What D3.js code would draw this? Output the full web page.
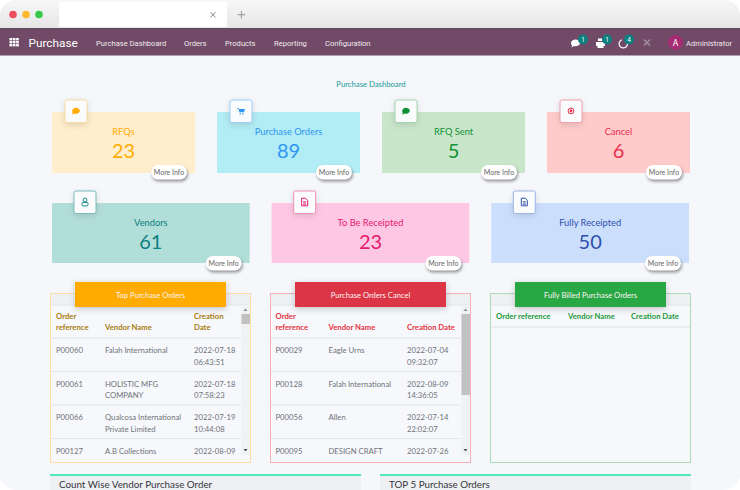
<!DOCTYPE html>
<html>
<head>
<meta charset="utf-8">
<script src="https://cdn.jsdelivr.net/npm/d3@7"></script>
<style>
  html, body { margin: 0; padding: 0; background: #fff; overflow: hidden; }
  svg { display: block; }
  text { font-family: Lato, sans-serif; }
  .nav text { font-family: Roboto, sans-serif; }
</style>
</head>
<body>
<svg id="chart" width="740" height="490"></svg>
<script>
// top cards
const topLabels = ['RFQs', 'Purchase Orders', 'RFQ Sent', 'Cancel'];
const topValues = [23, 89, 5, 6];
const topIcons = ['chat', 'cart', 'chat', 'target'];
const topFill = ['#ffeecc', '#b2ecf4', '#c9e6cb', '#ffcaca'];
const topInk = ['#ffab00', '#2f96f3', '#0f9135', '#e8304a'];
const topEdge = ['#fbdca0', '#9ccdf8', '#a6d6ae', '#f2a0ac'];

const lowLabels = ['Vendors', 'To Be Receipted', 'Fully Receipted'];
const lowValues = [61, 23, 50];
const lowIcons = ['user', 'doc', 'doc'];
const lowFill = ['#b2ded9', '#fec8e4', '#cbdffd'];
const lowInk = ['#0b8080', '#e5196e', '#2f50ab'];
const lowEdge = ['#7cbcbc', '#ef90b4', '#9db4e4'];

// tables
const tableTitles = ['Top Purchase Orders', 'Purchase Orders Cancel', 'Fully Billed Purchase Orders'];
const tableFill = ['#ffab00', '#dc3545', '#28a745'];
const tableEdge = ['#fbdfa4', '#f4b1b8', '#add9b7'];
const tableInk = ['#a87c10', '#e5343f', '#1d9b3c'];
const topOrders = [
  ['P00060', ['Falah International'], ['2022-07-18', '06:43:51']],
  ['P00061', ['HOLISTIC MFG', 'COMPANY'], ['2022-07-18', '07:58:23']],
  ['P00066', ['Qualcosa International', 'Private Limited'], ['2022-07-19', '10:44:08']],
  ['P00127', ['A.B Collections'], ['2022-08-09']]
];
const cancelOrders = [
  ['P00029', ['Eagle Urns'], ['2022-07-04', '09:32:07']],
  ['P00128', ['Falah International'], ['2022-08-09', '14:36:05']],
  ['P00056', ['Allen'], ['2022-07-14', '22:02:07']],
  ['P00095', ['DESIGN CRAFT'], ['2022-07-26']]
];
const billedOrders = [];
const tableRows = [topOrders, cancelOrders, billedOrders];

const navItems = ['Purchase Dashboard', 'Orders', 'Products', 'Reporting', 'Configuration'];
const navX = [96, 184, 225, 274, 325];
const badges = [1, 1, 4];
const lowerTitles = ['Count Wise Vendor Purchase Order', 'TOP 5 Purchase Orders'];

const svg = d3.select('#chart');

const defs = svg.append('defs');
const grad = defs.append('linearGradient').attr('id', 'chrome').attr('x2', 0).attr('y2', 1);
grad.append('stop').attr('offset', 0).attr('stop-color', '#f7f7f7');
grad.append('stop').attr('offset', 1).attr('stop-color', '#e6e6e6');
defs.append('clipPath').attr('id', 'win').append('rect')
  .attr('width', 740).attr('height', 490).attr('rx', 16);
defs.append('clipPath').attr('id', 'rowclip').append('rect')
  .attr('x', -40).attr('y', 0).attr('width', 240).attr('height', 117);

const page = svg.append('g').attr('clip-path', 'url(#win)');
page.append('rect').attr('width', 740).attr('height', 490).attr('fill', '#f5f7fb');

// browser chrome
page.append('rect').attr('width', 740).attr('height', 28).attr('fill', 'url(#chrome)');
const dots = d3.scalePoint().domain(['#ee4e5e', '#fdb92e', '#37c94a']).range([13, 39]);
page.selectAll('.dot').data(dots.domain()).join('circle')
  .attr('cx', d => dots(d)).attr('cy', 14.5).attr('r', 3.8).attr('fill', d => d);
page.append('rect').attr('x', 59).attr('y', 2).attr('width', 168).attr('height', 25).attr('fill', '#fff');
page.append('path').attr('d', 'M210.5 12l5 5.5M215.5 12l-5 5.5').attr('stroke', '#8a8a8a').attr('fill', 'none');
page.append('path').attr('d', 'M241.5 11v7.5M237.7 14.7h7.6').attr('stroke', '#a2a2a2').attr('stroke-width', 1.2).attr('fill', 'none');

// navbar
const nav = page.append('g').attr('class', 'nav');
nav.append('rect').attr('y', 28).attr('width', 740).attr('height', 27.5).attr('fill', '#704a66');
nav.append('rect').attr('y', 28).attr('width', 740).attr('height', 1).attr('fill', '#5a5057');
const grid = d3.range(9);
nav.selectAll('.sq').data(grid).join('rect')
  .attr('x', d => 9.5 + (d % 3) * 3.3).attr('y', d => 38 + Math.floor(d / 3) * 3)
  .attr('width', 2.7).attr('height', 2.4).attr('fill', '#fff');
nav.append('text').attr('x', 28.5).attr('y', 46.5).attr('font-size', 11.8)
  .attr('fill', '#fff').text('Purchase');
nav.selectAll('.item').data(navItems).join('text')
  .attr('x', (d, i) => navX[i]).attr('y', 45.5).attr('font-size', 7.6).attr('fill', '#f0e9ee').text(d => d);

// systray
const trayX = [576, 600, 622];
nav.append('path').attr('d', 'M571 43a4.6 3.4 0 1 1 3 3l-2.5 1.5.5-2a3.4 3 0 0 1-1-2.5z').attr('fill', '#fff');
nav.append('path').attr('d', 'M596 42h9v4h-1.5v2h-6v-2H596zM598 38.5h5v2.5h-5z').attr('fill', '#fff');
nav.append('path').attr('d', 'M626.5 41a4.2 4.2 0 1 1-4.5-1.3').attr('fill', 'none').attr('stroke', '#fff').attr('stroke-width', 1.2);
nav.selectAll('.badge').data(badges).join('circle')
  .attr('cx', (d, i) => trayX[i] + 7).attr('cy', 39.5).attr('r', 5).attr('fill', '#0b7f7f');
nav.selectAll('.badgetext').data(badges).join('text')
  .attr('x', (d, i) => trayX[i] + 7).attr('y', 42).attr('text-anchor', 'middle')
  .attr('font-size', 6.5).attr('fill', '#fff').text(d => d);
nav.append('path').attr('d', 'M644 39.5l6 6M650 39.5l-6 6').attr('stroke', '#a08c9b').attr('stroke-width', 1.6).attr('fill', 'none');
nav.append('circle').attr('cx', 675.5).attr('cy', 42.5).attr('r', 7.5).attr('fill', '#a52c72');
nav.append('text').attr('x', 675.5).attr('y', 45.5).attr('text-anchor', 'middle').attr('font-size', 8.5).attr('fill', '#fff').text('A');
nav.append('text').attr('x', 686).attr('y', 45.5).attr('font-size', 7.6).attr('fill', '#f0e9ee').text('Administrator');

page.append('text').attr('x', 371).attr('y', 87).attr('text-anchor', 'middle')
  .attr('font-size', 7.7).attr('fill', '#1a9a96').text('Purchase Dashboard');

function icon(g, kind, c) {
  if (kind === 'chat') {
    g.append('path').attr('d', 'M-3.8 0a3.8 2.9 0 1 1 2.2 2.4l-2.2 1.3.5-2a3 3 0 0 1-.5-1.7z').attr('fill', c);
  } else if (kind === 'cart') {
    g.append('path').attr('d', 'M-4 -3h1.6l.5 1H4l-1 3.2h-4.6l-1-3.4H-4zM-1.4 2.2h1.3v1.4h-1.3zM1.2 2.2h1.3v1.4H1.2z').attr('fill', c);
  } else if (kind === 'target') {
    g.append('circle').attr('r', 2.9).attr('fill', 'none').attr('stroke', c).attr('stroke-width', 1);
    g.append('circle').attr('r', 1.4).attr('fill', c);
  } else if (kind === 'user') {
    g.append('circle').attr('cy', -2).attr('r', 1.9).attr('fill', 'none').attr('stroke', c).attr('stroke-width', .9);
    g.append('rect').attr('x', -3).attr('y', .5).attr('width', 6).attr('height', 3.4).attr('rx', 1)
      .attr('fill', 'none').attr('stroke', c).attr('stroke-width', .9);
  } else {
    g.append('path').attr('d', 'M-3 -3.8h3.8L3 -1.6v5.4h-6z').attr('fill', 'none').attr('stroke', c).attr('stroke-width', 1);
    g.append('path').attr('d', 'M-1.5 -.3h3M-1.5 1h3M-1.5 2.3h3').attr('stroke', c).attr('stroke-width', .8);
  }
}

function drawCards(labels, values, icons, fill, ink, edge, x, y0, h, iconX, moreY) {
  const cards = page.selectAll(null).data(labels).join('g')
    .attr('transform', d => `translate(${x(d)},${y0})`);
  const w = x.bandwidth();
  cards.append('rect').attr('width', w).attr('height', h).attr('fill', (d, i) => fill[i]);
  cards.append('text').attr('x', w / 2).attr('y', 22.5).attr('text-anchor', 'middle')
    .attr('font-size', 9.3).attr('fill', (d, i) => ink[i]).text(d => d);
  cards.append('text').attr('x', w / 2).attr('y', 46).attr('text-anchor', 'middle')
    .attr('font-size', 20).attr('fill', (d, i) => ink[i]).text((d, i) => values[i]);
  const box = cards.append('g').attr('transform', `translate(${iconX},-12)`);
  box.append('rect').attr('width', 22).attr('height', 22.5).attr('rx', 2)
    .attr('fill', '#f9fbfd').attr('stroke', (d, i) => edge[i]).attr('stroke-width', 1)
    .style('filter', 'drop-shadow(0 2px 3px rgba(90,90,90,.2))');
  box.each(function(d, i) {
    icon(d3.select(this).append('g').attr('transform', 'translate(11,11)'), icons[i], ink[i]);
  });
  const more = cards.append('g').attr('transform', `translate(${w - 44},${moreY})`);
  more.append('rect').attr('width', 36).attr('height', 14.5).attr('rx', 7.2).attr('fill', '#fff')
    .style('filter', 'drop-shadow(1.5px 2px 1.5px rgba(70,70,70,.55))');
  more.append('text').attr('x', 18).attr('y', 10).attr('text-anchor', 'middle')
    .attr('font-size', 7).attr('fill', '#666').text('More Info');
}

const xTop = d3.scaleBand().domain(topLabels).range([52, 690]).paddingInner(22 / 165);
const xLow = d3.scaleBand().domain(lowLabels).range([52, 689]).paddingInner(.1);
drawCards(topLabels, topValues, topIcons, topFill, topInk, topEdge, xTop, 112, 61, 13, 53);
drawCards(lowLabels, lowValues, lowIcons, lowFill, lowInk, lowEdge, xLow, 203, 60, 22, 53);

// tables
const xTable = d3.scaleBand().domain(tableTitles).range([50, 691]).paddingInner(19 / 220);
const yRow = d3.scaleBand().domain(d3.range(4)).range([0, 134]);
const colX = [[6, 55, 144], [5.5, 58.5, 137], [6, 78, 141]];
const headLines = [
  [['Order', 'reference'], ['Vendor Name'], ['Creation', 'Date']],
  [['Order', 'reference'], ['Vendor Name'], ['Creation Date']],
  [['Order reference'], ['Vendor Name'], ['Creation Date']]
];

tableTitles.forEach((title, t) => {
  const g = page.append('g').attr('transform', `translate(${xTable(title)},293)`);
  const w = xTable.bandwidth();
  const twoLine = t < 2;
  const headBottom = twoLine ? 45 : 34;
  g.append('rect').attr('x', .5).attr('y', .5).attr('width', w - 1).attr('height', 169)
    .attr('fill', '#f6f8fc').attr('stroke', tableEdge[t]);
  g.append('rect').attr('x', 1).attr('y', 1).attr('width', w - 2).attr('height', 11).attr('fill', '#eef0f4');
  g.append('line').attr('x1', 1).attr('x2', w - 1).attr('y1', 12).attr('y2', 12).attr('stroke', '#e2e4e9');
  g.append('line').attr('x1', 1).attr('x2', twoLine ? w - 10 : w - 1).attr('y1', headBottom).attr('y2', headBottom)
    .attr('stroke', '#dfe2e8').attr('stroke-width', 1);

  headLines[t].forEach((lines, c) => {
    g.selectAll(null).data(lines).join('text')
      .attr('x', colX[t][c])
      .attr('y', (d, i) => twoLine ? 37 - (lines.length - 1 - i) * 11.3 : 26)
      .attr('font-size', 7.7).attr('font-weight', 700).attr('fill', tableInk[t]).text(d => d);
  });

  const body = g.append('g').attr('transform', `translate(0,${headBottom})`);
  const clip = body.append('g').attr('clip-path', 'url(#rowclip)');
  const rows = clip.selectAll('g').data(tableRows[t]).join('g')
    .attr('transform', (d, i) => `translate(0,${yRow(i)})`);
  rows.filter((d, i) => i > 0).append('line')
    .attr('x1', 1).attr('x2', w - 10).attr('stroke', '#e3e5ea');
  rows.each(function(row) {
    const r = d3.select(this);
    [[row[0]], row[1], row[2]].forEach((lines, c) => {
      r.selectAll(null).data(lines).join('text')
        .attr('x', colX[t][c]).attr('y', (d, i) => 15 + i * 11.6)
        .attr('font-size', 7.7).attr('fill', '#6f7378').text(d => d);
    });
  });

  if (twoLine) {
    g.append('rect').attr('x', w - 10).attr('y', 12).attr('width', 9).attr('height', 150).attr('fill', '#f1f2f4');
    g.append('rect').attr('x', w - 9.5).attr('y', 21).attr('width', 8.5).attr('height', t === 0 ? 10 : 81).attr('fill', '#c1c1c1');
    g.append('path').attr('d', `M${w - 7.5} 18l2-2.6 2 2.6z`).attr('fill', '#8c8c8c');
    g.append('path').attr('d', `M${w - 7.5} 156l2 2.6 2-2.6z`).attr('fill', '#505050');
  }

  const head = g.append('g').attr('transform', 'translate(25,-11)');
  head.append('rect').attr('width', 151).attr('height', 25).attr('fill', tableFill[t])
    .style('filter', 'drop-shadow(0 2px 3px rgba(80,80,80,.3))');
  head.append('text').attr('x', 75.5).attr('y', 15.5).attr('text-anchor', 'middle')
    .attr('font-size', 7.6).attr('fill', '#fdf3f3').text(title);
});

// lower panels, cut off by the window
const xLower = d3.scaleBand().domain(lowerTitles).range([50, 691]).paddingInner(19 / 330);
const lower = page.selectAll(null).data(lowerTitles).join('g')
  .attr('transform', d => `translate(${xLower(d)},474)`);
lower.append('rect').attr('width', xLower.bandwidth()).attr('height', 20).attr('fill', '#eff0f4');
lower.append('rect').attr('width', xLower.bandwidth()).attr('height', 2).attr('fill', '#4fe8b6');
lower.append('text').attr('x', 9).attr('y', 13.5).attr('font-size', 9.8).attr('fill', '#33363a').text(d => d);
</script>
</body>
</html>
